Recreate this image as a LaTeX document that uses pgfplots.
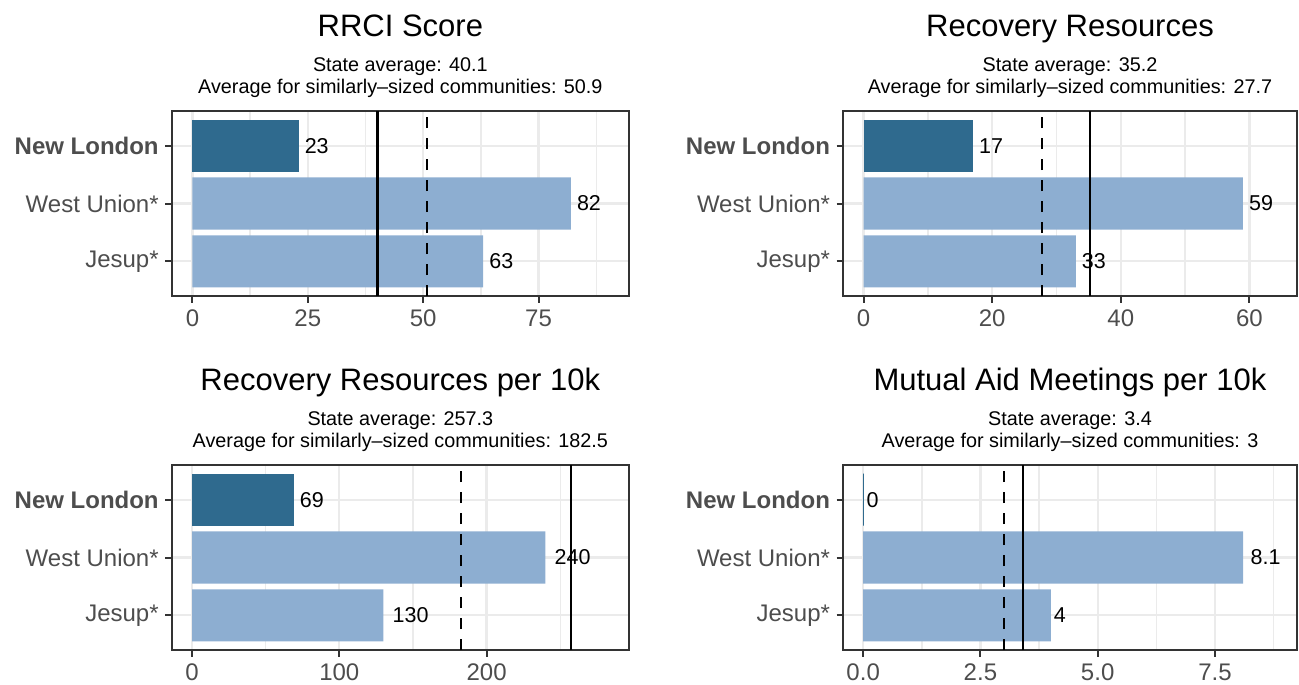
\documentclass[border=0pt]{standalone}
\usepackage{fontspec}
\setmainfont{Liberation Sans}
\usepackage{pgfplots}
\pgfplotsset{compat=1.18}
\definecolor{darkc}{RGB}{47,106,142}
\definecolor{lightc}{RGB}{141,174,209}
\definecolor{gridc}{RGB}{235,235,235}
\definecolor{framec}{RGB}{51,51,51}
\definecolor{tickc}{RGB}{77,77,77}
\newsavebox{\lblbox}
\pgfplotsset{
  panel/.style={
    scale only axis, height=185pt, anchor=north west,
    ymin=0.4, ymax=3.6,
    ytick={1,2,3},
    yticklabels={Jesup*,West Union*,\textbf{New London}},
    tick pos=left, tick align=outside,
    major tick length=6.5pt,
    minor tick length=0pt,
    tick style={framec, line width=2pt},
    axis line style={framec, line width=2pt},
    xmajorgrids, ymajorgrids, xminorgrids,
    major grid style={gridc, line width=2.2pt},
    minor grid style={gridc, line width=1.4pt},
    tick label style={font=\fontsize{24}{28}\selectfont, text=tickc},
    xticklabel style={yshift=-4pt},
    yticklabel style={xshift=-3pt},
    /pgf/number format/assume math mode=true,
    clip=false,
  },
  barplot/.style={xbar, bar width=0.9, bar shift=0pt, draw=none, point meta=x,
    nodes near coords={\sbox{\lblbox}{\pgfmathprintnumber{\pgfplotspointmeta}}\hspace*{0.25\wd\lblbox}\usebox{\lblbox}},
    every node near coord/.append style={anchor=west, inner sep=0pt,
      font=\fontsize{21.5}{25}\selectfont, text=black}},
  vsolid/.style={black, line width=2.1pt},
  vdash/.style={black, line width=2.1pt, dash pattern=on 11pt off 10pt},
}
\newcommand{\paneltitle}[3]{%
  \node[anchor=base, font=\fontsize{31}{36}\selectfont, yshift=75pt] at (rel axis cs:0.5,1) {#1};
  \node[anchor=base, font=\fontsize{19.8}{23}\selectfont, yshift=40pt] at (rel axis cs:0.5,1) {State average: #2};
  \node[anchor=base, font=\fontsize{19.8}{23}\selectfont, yshift=17.5pt] at (rel axis cs:0.5,1) {Average for similarly--sized communities: #3};
}
\begin{document}
\begin{tikzpicture}
\useasboundingbox (0,0) rectangle (1299pt,-685pt);
% Panel 1
\begin{axis}[panel, at={(171.7pt,-111pt)}, width=457.3pt,
  xmin=-4.5, xmax=94.6, xtick={0,25,50,75}, minor xtick={12.5,37.5,62.5,87.5}]
\addplot[barplot, fill=darkc] coordinates {(23,3)};
\addplot[barplot, fill=lightc] coordinates {(82,2) (63,1)};
\addplot[vsolid] coordinates {(40.1,0.4) (40.1,3.6)};
\addplot[vdash] coordinates {(50.9,0.4) (50.9,3.6)};
\paneltitle{RRCI Score}{40.1}{50.9}
\end{axis}
% Panel 2
\begin{axis}[panel, at={(843pt,-111pt)}, width=454pt,
  xmin=-3.2, xmax=67.4, xtick={0,20,40,60}, minor xtick={10,30,50}]
\addplot[barplot, fill=darkc] coordinates {(17,3)};
\addplot[barplot, fill=lightc] coordinates {(59,2) (33,1)};
\addplot[vsolid] coordinates {(35.2,0.4) (35.2,3.6)};
\addplot[vdash] coordinates {(27.7,0.4) (27.7,3.6)};
\paneltitle{Recovery Resources}{35.2}{27.7}
\end{axis}
% Panel 3
\begin{axis}[panel, at={(171.7pt,-465pt)}, width=457.3pt,
  xmin=-13.8, xmax=296.7, xtick={0,100,200}, minor xtick={50,150,250}]
\addplot[barplot, fill=darkc] coordinates {(69,3)};
\addplot[barplot, fill=lightc] coordinates {(240,2) (130,1)};
\addplot[vsolid] coordinates {(257.3,0.4) (257.3,3.6)};
\addplot[vdash] coordinates {(182.5,0.4) (182.5,3.6)};
\paneltitle{Recovery Resources per 10k}{257.3}{182.5}
\end{axis}
% Panel 4
\begin{axis}[panel, at={(843pt,-465pt)}, width=454pt,
  xmin=-0.43, xmax=9.25, xtick={0,2.5,5,7.5}, minor xtick={1.25,3.75,6.25,8.75},
  xticklabel style={/pgf/number format/.cd, fixed, fixed zerofill, precision=1}]
\addplot[barplot, fill=darkc, draw=darkc, line width=0.8pt] coordinates {(0,3)};
\addplot[barplot, fill=lightc] coordinates {(8.1,2) (4,1)};
\addplot[vsolid] coordinates {(3.4,0.4) (3.4,3.6)};
\addplot[vdash] coordinates {(3,0.4) (3,3.6)};
\paneltitle{Mutual Aid Meetings per 10k}{3.4}{3}
\end{axis}
\end{tikzpicture}
\end{document}
